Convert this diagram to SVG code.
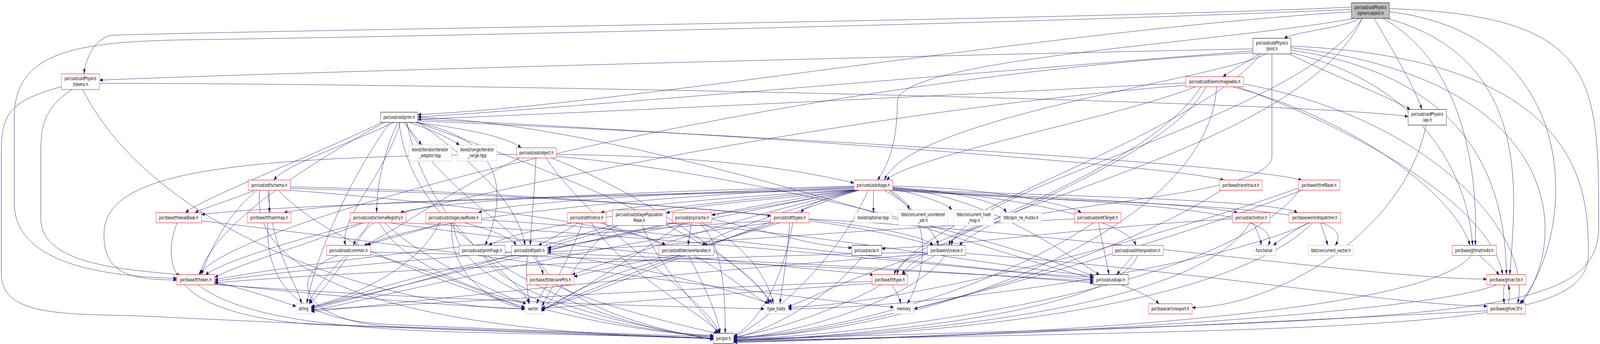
<svg xmlns="http://www.w3.org/2000/svg" width="6155" height="880" viewBox="0 0 6155 880" preserveAspectRatio="none">
<style>
svg{width:100vw;height:100vh;display:block}
rect{stroke-width:1}
.r rect{fill:#fff;stroke:#ff0000}
.k rect{fill:#fff;stroke:#000}
.g rect{fill:#fff;stroke:#bfbfbf}
.root rect{fill:#bfbfbf;stroke:#000}
text{font-family:"DejaVu Sans","Liberation Sans",sans-serif;font-size:12.8px;text-anchor:middle;fill:#000}
#edges path{fill:none;stroke:#191970;stroke-width:1;marker-end:url(#ah)}
</style>
<defs>
<marker id="ah" markerWidth="13" markerHeight="9" refX="12.5" refY="4.5" orient="auto" markerUnits="userSpaceOnUse"><path d="M0,0 L13,4.5 L0,9 z" fill="#191970"/></marker>
</defs>
<rect x="0" y="0" width="6155" height="880" fill="#fff" stroke="none"/>
<g id="edges">
<path d="M5230,47 C5180,70 4990,80 4940,98"/>
<path d="M5199,18 C4200,50 1200,75 430,90 C360,100 330,150 323,189"/>
<path d="M5286,47 C5350,120 5440,220 5470,280"/>
<path d="M5199,30 C4000,80 2400,270 1607,293"/>
<path d="M5210,47 C4700,110 3452,150 3452,260 C3452,360 3420,420 3375,461"/>
<path d="M5240,47 C5000,300 3700,480 3660,628"/>
<path d="M5320,47 C5600,150 5690,400 5675,628"/>
<path d="M5199,24 C4000,60 1500,95 700,102 C300,108 55,130 55,300 L55,520 C55,650 300,706 680,712"/>
<path d="M5240,47 C5000,400 3500,560 3440,703"/>
<path d="M5335,47 C5900,150 5830,500 5808,703"/>
<path d="M5345,30 C6100,90 6070,600 5845,777"/>
<path d="M5345,22 C6150,40 6150,200 6150,580 C6150,820 5600,815 2823,868"/>
<path d="M4844,138 C4790,160 4740,180 4704,196"/>
<path d="M4820,125 C3000,150 900,190 383,205"/>
<path d="M4960,138 C5150,200 5350,250 5425,280"/>
<path d="M4820,130 C3500,200 2000,285 1607,299"/>
<path d="M4870,138 C4700,200 3500,300 3402,461"/>
<path d="M4893,138 L4893,400 C4893,520 3700,520 3650,628"/>
<path d="M4966,135 C5400,200 5640,400 5665,628"/>
<path d="M4820,135 C3000,200 900,560 765,703"/>
<path d="M4850,138 C4600,350 3500,560 3450,703"/>
<path d="M4966,128 C5700,200 5790,500 5795,703"/>
<path d="M4966,122 C6000,200 6050,600 5852,777"/>
<path d="M4966,118 C6110,150 6110,500 6110,650 C6110,835 5500,840 2823,871"/>
<path d="M383,213 C2000,215 5000,260 5417,298"/>
<path d="M277,229 C160,280 157,330 157,400 L157,560 C157,680 500,690 693,703"/>
<path d="M318,229 C600,600 1500,790 2019,790"/>
<path d="M236,222 C20,260 5,300 5,400 L5,700 C5,820 300,800 600,810 C1500,840 2500,860 2744,865"/>
<path d="M4562,212 C3500,250 2000,295 1607,305"/>
<path d="M4600,222 C4300,300 3500,400 3410,461"/>
<path d="M4640,222 C4500,400 3800,550 3690,628"/>
<path d="M4740,222 C5200,300 5600,500 5655,628"/>
<path d="M4562,218 C3000,300 1000,600 790,703"/>
<path d="M4620,222 C4400,450 3550,600 3470,703"/>
<path d="M4760,222 C5300,350 5750,550 5780,703"/>
<path d="M4784,215 C5500,300 5900,600 5838,777"/>
<path d="M4680,222 C4650,600 3500,860 2823,862"/>
<path d="M5486,320 C5400,600 4900,784 4586,787"/>
<path d="M1552,313 C1575,330 1600,350 1622,371"/>
<path d="M1575,313 C1650,330 1720,350 1768,371"/>
<path d="M1600,313 C1800,330 1950,350 2005,378"/>
<path d="M1515,313 C1300,380 1100,420 1053,461"/>
<path d="M1607,305 C2500,330 4500,420 4708,461"/>
<path d="M1607,309 C3000,350 4800,420 5008,461"/>
<path d="M1470,313 C1200,400 800,500 713,544"/>
<path d="M1530,313 C1470,400 1450,480 1449,544"/>
<path d="M1540,313 C1480,450 1300,560 1330,628"/>
<path d="M1600,313 C1950,360 1950,500 1866,628"/>
<path d="M1607,312 C1900,450 2000,550 2020,628"/>
<path d="M1480,313 C1100,450 800,600 770,703"/>
<path d="M1560,313 C1700,500 2050,600 2090,703"/>
<path d="M1607,300 C2500,320 4000,690 4206,711"/>
<path d="M1500,313 C1300,500 1200,700 1180,777"/>
<path d="M1565,313 C1650,600 2000,700 2035,777"/>
<path d="M1600,313 C2200,450 2900,650 2960,777"/>
<path d="M1535,313 C1600,700 2500,860 2744,862"/>
<path d="M2140,395 C2800,400 3100,440 3285,468"/>
<path d="M2000,404 C1700,500 1500,600 1400,628"/>
<path d="M2062,404 C2055,500 2045,560 2040,628"/>
<path d="M2140,400 C3000,450 4000,650 4206,706"/>
<path d="M2100,404 C2300,600 2700,750 2770,853"/>
<path d="M2120,404 C2500,500 2900,700 2970,777"/>
<path d="M1987,395 C800,400 400,450 400,600 C400,700 500,716 680,716"/>
<path d="M1036,486 L1036,544"/>
<path d="M980,486 C900,510 790,530 750,544"/>
<path d="M990,486 C870,550 800,650 775,703"/>
<path d="M1117,478 C2000,490 2800,540 2965,552"/>
<path d="M1117,482 C2200,500 3500,560 3590,628"/>
<path d="M1100,486 C1800,520 2500,590 2560,628"/>
<path d="M1030,486 C1050,650 1140,720 1160,777"/>
<path d="M1070,486 C1300,650 1900,760 2019,786"/>
<path d="M1000,486 C950,700 1500,850 2744,866"/>
<path d="M3434,480 C3800,500 4100,650 4230,703"/>
<path d="M3285,480 C2500,500 1600,560 1410,628"/>
<path d="M3434,476 C3800,480 4100,520 4160,544"/>
<path d="M3434,482 C3900,500 4330,560 4370,628"/>
<path d="M3285,476 C2500,490 1700,510 1540,544"/>
<path d="M3285,478 C2500,495 1950,520 1840,544"/>
<path d="M3300,486 C3000,510 2700,520 2563,545"/>
<path d="M3290,486 C2600,520 2000,580 1880,628"/>
<path d="M3300,486 C2800,560 2300,680 2200,703"/>
<path d="M3285,482 C2500,500 1300,510 1093,544"/>
<path d="M3285,485 C2500,500 1100,520 775,549"/>
<path d="M3434,486 C3900,500 4600,520 4761,544"/>
<path d="M3300,486 C3100,510 2900,535 2738,550"/>
<path d="M3310,486 C3000,540 2750,600 2700,628"/>
<path d="M3285,486 C2900,500 2500,520 2311,544"/>
<path d="M3290,486 C2800,550 2300,620 2106,634"/>
<path d="M3310,486 C3200,500 3110,520 3080,544"/>
<path d="M3420,486 C3550,560 3600,600 3610,628"/>
<path d="M3434,484 C4000,500 4900,510 4991,544"/>
<path d="M3360,486 L3360,544"/>
<path d="M3400,486 C3450,505 3490,520 3498,537"/>
<path d="M3434,483 C3550,500 3640,520 3662,537"/>
<path d="M3434,479 C3700,490 3850,520 3872,544"/>
<path d="M3434,486 C4300,520 4950,530 4878,628"/>
<path d="M3434,488 C4500,530 5250,520 5136,628"/>
<path d="M3285,486 C2500,560 1400,760 1197,786"/>
<path d="M3300,486 C2800,600 2200,780 2082,788"/>
<path d="M3340,486 C3200,700 2900,840 2823,862"/>
<path d="M3420,486 C3600,550 3560,700 3490,777"/>
<path d="M4700,486 C4200,700 3200,860 2823,866"/>
<path d="M5000,486 C4700,750 3300,860 2823,868"/>
<path d="M5000,480 C4500,600 3500,780 3032,786"/>
<path d="M5010,486 C4500,620 3700,760 3516,790"/>
<path d="M681,570 C620,680 650,800 1200,830 C2000,850 2500,860 2744,866"/>
<path d="M775,565 C1500,620 3000,760 3438,786"/>
<path d="M1030,570 C1020,760 1200,820 1500,830 C2200,850 2600,858 2744,862"/>
<path d="M1438,570 C1400,590 1370,610 1359,628"/>
<path d="M1400,570 C1200,620 900,680 826,710"/>
<path d="M1500,570 C2000,620 3000,680 3360,703"/>
<path d="M1550,570 C2500,600 3800,690 4206,716"/>
<path d="M1420,570 C1350,650 1250,740 1190,777"/>
<path d="M1480,570 C1600,650 1900,750 2025,777"/>
<path d="M1460,570 C1600,750 2400,850 2744,860"/>
<path d="M1852,562 C2800,600 3800,700 4206,709"/>
<path d="M1700,570 C1600,595 1470,612 1413,628"/>
<path d="M1786,570 C1900,590 1970,610 1986,628"/>
<path d="M1690,570 C1600,700 1300,770 1197,784"/>
<path d="M1739,570 C1720,700 1900,780 2019,788"/>
<path d="M1745,570 C1750,750 2400,850 2744,858"/>
<path d="M2225,570 C2180,590 2120,610 2071,628"/>
<path d="M2310,570 C2400,590 2500,610 2560,628"/>
<path d="M2240,570 C2200,650 2120,740 2084,784"/>
<path d="M2275,570 C2400,700 2700,800 2770,853"/>
<path d="M2380,577 C2300,600 2150,620 2108,636"/>
<path d="M2563,570 C3200,600 3900,690 4206,705"/>
<path d="M2371,577 C2258,620 2150,760 2084,790"/>
<path d="M2470,577 C2550,700 2700,790 2762,853"/>
<path d="M2360,575 C2000,650 1400,760 1197,790"/>
<path d="M2660,570 C2655,590 2650,610 2647,628"/>
<path d="M2690,570 C2780,620 2790,750 2790,853"/>
<path d="M2600,570 C2400,600 2200,625 2106,640"/>
<path d="M2630,570 C2450,650 2200,760 2082,792"/>
<path d="M2700,570 C2850,620 2950,700 2975,777"/>
<path d="M2738,560 C3000,600 3150,632 3277,634"/>
<path d="M3000,570 C2900,590 2800,610 2708,628"/>
<path d="M3112,565 C3300,580 3500,610 3590,628"/>
<path d="M3050,570 C3000,750 2900,830 2823,860"/>
<path d="M3038,570 C3030,650 3010,730 3000,777"/>
<path d="M2965,565 C2000,600 1000,690 826,716"/>
<path d="M2980,570 C2600,650 2200,760 2082,794"/>
<path d="M2965,570 C2300,620 1400,770 1197,795"/>
<path d="M3112,560 C4200,600 5300,714 5719,714"/>
<path d="M4226,570 C4240,620 4260,680 4266,703"/>
<path d="M4207,570 C3800,750 3200,850 2823,864"/>
<path d="M4133,560 C3500,580 2500,630 2106,645"/>
<path d="M4820,570 C4835,590 4850,610 4851,628"/>
<path d="M4809,570 C4600,800 3400,860 2823,870"/>
<path d="M4742,560 C4200,580 3600,634 3392,636"/>
<path d="M5030,570 C4980,590 4930,610 4898,628"/>
<path d="M5080,570 C5090,590 5100,610 5108,628"/>
<path d="M5050,570 C4700,800 3500,860 2823,871"/>
<path d="M5040,570 C4600,700 3500,790 3032,790"/>
<path d="M1330,653 C1260,700 1200,750 1189,777"/>
<path d="M1426,645 C2500,660 3800,700 4206,720"/>
<path d="M1301,653 C1100,700 1150,820 1500,835 C2200,850 2600,860 2744,867"/>
<path d="M1426,650 C1700,700 1950,770 2019,792"/>
<path d="M1943,645 C2800,660 3800,700 4206,724"/>
<path d="M1859,653 C1950,760 2400,830 2744,868"/>
<path d="M2029,653 C2020,700 2030,750 2036,777"/>
<path d="M1990,653 C1600,700 1300,770 1197,788"/>
<path d="M2060,653 C2150,780 2500,840 2744,869"/>
<path d="M1968,645 C1500,670 1000,700 826,720"/>
<path d="M2106,650 C2500,680 2900,760 2960,777"/>
<path d="M2648,653 C2700,720 2760,800 2770,853"/>
<path d="M2668,653 C2800,700 2900,760 2955,777"/>
<path d="M2600,653 C2450,670 2300,690 2208,708"/>
<path d="M2626,653 C2300,700 2150,770 2082,796"/>
<path d="M3320,653 C3200,760 2950,850 2823,864"/>
<path d="M3637,653 C3500,780 3000,860 2823,866"/>
<path d="M3568,648 C3300,700 3100,770 3032,784"/>
<path d="M3600,653 C3550,670 3500,690 3470,703"/>
<path d="M3568,645 C2500,660 1200,700 826,724"/>
<path d="M3568,650 C2500,700 1500,780 1197,797"/>
<path d="M3715,648 C4700,700 5400,783 5721,783"/>
<path d="M4359,653 C4340,670 4310,690 4296,703"/>
<path d="M4376,653 C4300,800 3300,860 2823,872"/>
<path d="M5690,653 C5720,670 5750,690 5768,703"/>
<path d="M5660,653 C5500,800 4000,860 2823,873"/>
<path d="M761,728 C900,800 1200,840 1800,850 C2300,858 2600,862 2744,865"/>
<path d="M826,722 C950,740 1080,770 1139,784"/>
<path d="M826,726 C1300,760 1800,785 2019,790"/>
<path d="M826,728 C1700,770 2600,785 2940,790"/>
<path d="M2105,728 C2090,745 2075,760 2064,777"/>
<path d="M2133,728 C2300,780 2600,830 2760,853"/>
<path d="M3432,728 C3445,745 3460,760 3465,777"/>
<path d="M3392,728 C3200,800 2950,850 2823,862"/>
<path d="M3355,720 C2500,740 1600,780 1197,792"/>
<path d="M3355,725 C2800,750 2300,780 2082,789"/>
<path d="M4312,728 C4380,745 4440,765 4459,777"/>
<path d="M5787,728 C5783,745 5783,760 5787,777"/>
<path d="M5760,728 C5500,800 4000,860 2823,875"/>
<path d="M5803,777 C5807,760 5807,745 5803,728"/>
<path d="M5721,795 C5000,820 3800,860 2823,876"/>
</g>
<g id="n1" class="root"><rect x="5199" y="7" width="146" height="40"/><text><tspan x="5272" y="23.5">pxr/usd/usdPhysics</tspan><tspan x="5272" y="38">/sphericalJoint.h</tspan></text></g>
<g id="n2" class="k"><rect x="4820" y="98" width="146" height="40"/><text><tspan x="4893" y="114.5">pxr/usd/usdPhysics</tspan><tspan x="4893" y="129">/joint.h</tspan></text></g>
<g id="n3" class="r"><rect x="236" y="189" width="147" height="40"/><text><tspan x="309.5" y="205.5">pxr/usd/usdPhysics</tspan><tspan x="309.5" y="220">/tokens.h</tspan></text></g>
<g id="n4" class="r"><rect x="4562" y="196" width="222" height="26"/><text x="4673" y="213.5">pxr/usd/usdGeom/imageable.h</text></g>
<g id="n5" class="k"><rect x="5417" y="280" width="147" height="40"/><text><tspan x="5490.5" y="296.5">pxr/usd/usdPhysics</tspan><tspan x="5490.5" y="311">/api.h</tspan></text></g>
<g id="n6" class="k"><rect x="1464" y="287" width="143" height="26"/><text x="1535.5" y="304.5">pxr/usd/usd/prim.h</text></g>
<g id="n7" class="g"><rect x="1573" y="371" width="163" height="41"/><text><tspan x="1654.5" y="387.5">boost/iterator/iterator</tspan><tspan x="1654.5" y="402">_adaptor.hpp</tspan></text></g>
<g id="n8" class="g"><rect x="1760" y="371" width="151" height="41"/><text><tspan x="1835.5" y="387.5">boost/range/iterator</tspan><tspan x="1835.5" y="402">_range.hpp</tspan></text></g>
<g id="n9" class="r"><rect x="1987" y="378" width="153" height="26"/><text x="2063.5" y="395.5">pxr/usd/usd/object.h</text></g>
<g id="n10" class="r"><rect x="955" y="460.5" width="162" height="26"/><text x="1036" y="478">pxr/usd/sdf/schema.h</text></g>
<g id="n11" class="r"><rect x="3285" y="460.5" width="149" height="26"/><text x="3359.5" y="478">pxr/usd/usd/stage.h</text></g>
<g id="n12" class="r"><rect x="4691" y="460.5" width="164" height="26"/><text x="4773" y="478">pxr/base/trace/trace.h</text></g>
<g id="n13" class="r"><rect x="4995" y="460.5" width="159" height="26"/><text x="5074.5" y="478">pxr/base/tf/refBase.h</text></g>
<g id="n14" class="r"><rect x="600" y="544" width="175" height="26"/><text x="687.5" y="561.5">pxr/base/tf/weakBase.h</text></g>
<g id="n15" class="r"><rect x="951" y="544" width="169" height="26"/><text x="1035.5" y="561.5">pxr/base/tf/hashmap.h</text></g>
<g id="n16" class="r"><rect x="1347" y="544" width="215" height="26"/><text x="1454.5" y="561.5">pxr/usd/usd/schemaRegistry.h</text></g>
<g id="n17" class="r"><rect x="1638" y="544" width="214" height="26"/><text x="1745" y="561.5">pxr/usd/usd/stageLoadRules.h</text></g>
<g id="n18" class="r"><rect x="2182" y="544" width="150" height="26"/><text x="2257" y="561.5">pxr/usd/sdf/notice.h</text></g>
<g id="n19" class="r"><rect x="2356" y="537" width="207" height="40"/><text><tspan x="2459.5" y="553.5">pxr/usd/usd/stagePopulation</tspan><tspan x="2459.5" y="568">Mask.h</tspan></text></g>
<g id="n20" class="r"><rect x="2587" y="544" width="151" height="26"/><text x="2662.5" y="561.5">pxr/usd/pcp/cache.h</text></g>
<g id="n21" class="r"><rect x="2965" y="544" width="147" height="26"/><text x="3038.5" y="561.5">pxr/usd/sdf/types.h</text></g>
<g id="n22" class="g"><rect x="3288" y="544" width="143" height="26"/><text x="3359.5" y="561.5">boost/optional.hpp</text></g>
<g id="n23" class="g"><rect x="3456" y="537" width="189" height="40"/><text><tspan x="3550.5" y="553.5">tbb/concurrent_unordered</tspan><tspan x="3550.5" y="568">_set.h</tspan></text></g>
<g id="n24" class="g"><rect x="3669" y="537" width="155" height="40"/><text><tspan x="3746.5" y="553.5">tbb/concurrent_hash</tspan><tspan x="3746.5" y="568">_map.h</tspan></text></g>
<g id="n25" class="g"><rect x="3849" y="544" width="158" height="26"/><text x="3928" y="561.5">tbb/spin_rw_mutex.h</text></g>
<g id="n26" class="r"><rect x="4133" y="544" width="179" height="26"/><text x="4222.5" y="561.5">pxr/usd/usd/editTarget.h</text></g>
<g id="n27" class="r"><rect x="4742" y="544" width="143" height="26"/><text x="4813.5" y="561.5">pxr/usd/ar/notice.h</text></g>
<g id="n28" class="r"><rect x="4959" y="544" width="198" height="26"/><text x="5058" y="561.5">pxr/base/work/dispatcher.h</text></g>
<g id="n29" class="r"><rect x="1256" y="627.5" width="170" height="26"/><text x="1341" y="645">pxr/usd/usd/common.h</text></g>
<g id="n30" class="r"><rect x="1766" y="627.5" width="177" height="26"/><text x="1854.5" y="645">pxr/usd/usd/primFlags.h</text></g>
<g id="n31" class="r"><rect x="1968" y="627.5" width="138" height="26"/><text x="2037" y="645">pxr/usd/sdf/path.h</text></g>
<g id="n32" class="r"><rect x="2535" y="627.5" width="211" height="26"/><text x="2640.5" y="645">pxr/usd/sdf/declareHandles.h</text></g>
<g id="n33" class="k"><rect x="3277" y="627.5" width="115" height="26"/><text x="3334.5" y="645">pxr/usd/ar/ar.h</text></g>
<g id="n34" class="r"><rect x="3568" y="627.5" width="147" height="26"/><text x="3641.5" y="645">pxr/base/vt/value.h</text></g>
<g id="n35" class="r"><rect x="4279" y="627.5" width="196" height="26"/><text x="4377" y="645">pxr/usd/usd/interpolation.h</text></g>
<g id="n36" class="g"><rect x="4819" y="627.5" width="87" height="26"/><text x="4862.5" y="645">functional</text></g>
<g id="n37" class="g"><rect x="5032" y="627.5" width="175" height="26"/><text x="5119.5" y="645">tbb/concurrent_vector.h</text></g>
<g id="n38" class="r"><rect x="5586" y="627.5" width="171" height="26"/><text x="5671.5" y="645">pxr/base/gf/matrix4d.h</text></g>
<g id="n39" class="r"><rect x="680" y="702.5" width="146" height="26"/><text x="753" y="720">pxr/base/tf/token.h</text></g>
<g id="n40" class="r"><rect x="2027" y="702.5" width="181" height="26"/><text x="2117.5" y="720">pxr/base/tf/declarePtrs.h</text></g>
<g id="n41" class="r"><rect x="3355" y="702.5" width="137" height="26"/><text x="3423.5" y="720">pxr/base/tf/type.h</text></g>
<g id="n42" class="k"><rect x="4206" y="702.5" width="134" height="26"/><text x="4273" y="720">pxr/usd/usd/api.h</text></g>
<g id="n43" class="r"><rect x="5719" y="702.5" width="151" height="26"/><text x="5794.5" y="720">pxr/base/gf/vec3d.h</text></g>
<g id="n44" class="g"><rect x="1139" y="777" width="58" height="26"/><text x="1168" y="794.5">string</text></g>
<g id="n45" class="g"><rect x="2019" y="777" width="63" height="26"/><text x="2050.5" y="794.5">vector</text></g>
<g id="n46" class="g"><rect x="2940" y="777" width="92" height="26"/><text x="2986" y="794.5">type_traits</text></g>
<g id="n47" class="g"><rect x="3438" y="777" width="78" height="26"/><text x="3477" y="794.5">memory</text></g>
<g id="n48" class="r"><rect x="4418" y="777" width="168" height="26"/><text x="4502" y="794.5">pxr/base/arch/export.h</text></g>
<g id="n49" class="r"><rect x="5721" y="777" width="147" height="26"/><text x="5794.5" y="794.5">pxr/base/gf/vec3f.h</text></g>
<g id="n50" class="k"><rect x="2744" y="852.5" width="79" height="26"/><text x="2783.5" y="870">pxr/pxr.h</text></g>
</svg>
